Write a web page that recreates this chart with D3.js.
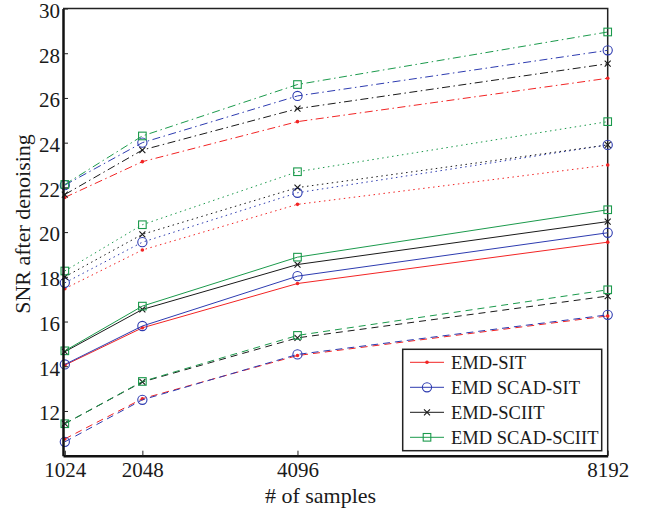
<!DOCTYPE html>
<html>
<head>
<meta charset="utf-8">
<script src="https://cdn.jsdelivr.net/npm/d3@7"></script>
<style>
  body { margin: 0; background: #fff; }
  svg { display: block; font-family: "Liberation Serif", "Times New Roman", serif; }
</style>
</head>
<body>
<svg id="drawing_region"></svg>
<script>
// x values
const samples = [1024, 2048, 4096, 8192];
const yTicks = [12, 14, 16, 18, 20, 22, 24, 26, 28, 30];
const methods = ["EMD-SIT", "EMD SCAD-SIT", "EMD-SCIIT", "EMD SCAD-SCIIT"];
// four curves per method: dash-dot, dotted, solid, dashed
const lineStyles = ["dashdot", "dotted", "solid", "dashed"];

const emdSit = [
    [21.55, 23.15, 24.94, 26.88],
    [17.47, 19.20, 21.24, 23.00],
    [14.05, 15.72, 17.70, 19.55],
    [10.75, 12.55, 14.48, 16.25]
];
const emdScadSit = [
    [22.10, 24.00, 26.09, 28.13],
    [17.73, 19.55, 21.76, 23.90],
    [14.08, 15.80, 18.03, 19.97],
    [10.62, 12.50, 14.53, 16.30]
];
const emdSciit = [
    [21.68, 23.67, 25.52, 27.53],
    [18.00, 19.90, 21.99, 23.90],
    [14.65, 16.54, 18.55, 20.47],
    [11.43, 13.30, 15.27, 17.14]
];
const emdScadSciit = [
    [22.13, 24.30, 26.60, 28.95],
    [18.26, 20.33, 22.70, 24.94],
    [14.69, 16.69, 18.88, 21.00],
    [11.43, 13.32, 15.38, 17.42]
];

const seriesByMethod = [emdSit, emdScadSit, emdSciit, emdScadSciit];
const colors = ["#f22424", "#2d3bb0", "#1a1a1a", "#1b9a4c"];
const markers = ["dot", "circle", "cross", "square"];
const dashes = {
    dashdot: "8,3.5,1.5,3.5",
    dotted: "1.5,3.5",
    solid: null,
    dashed: "7,5"
};

const config = {
    width: 647,
    height: 514,
    margin: {top: 8.5, right: 39.3, bottom: 58.3, left: 63}
};

const svg = d3.select('#drawing_region')
    .attr('width', config.width)
    .attr('height', config.height);

const inner_width = config.width - config.margin.left - config.margin.right;
const inner_height = config.height - config.margin.top - config.margin.bottom;

const chart = svg.append('g')
    .attr('transform', `translate(${config.margin.left}, ${config.margin.top})`);

const xscale = d3.scaleLinear()
    .domain([1000, 8192])
    .range([0, inner_width]);

const yscale = d3.scaleLinear()
    .domain([10, 30])
    .range([inner_height, 0]);

// top and right frame
chart.append('path')
    .attr('d', `M0,0H${inner_width}V${inner_height}`)
    .attr('fill', 'none')
    .attr('stroke', '#222')
    .attr('stroke-width', 1.5);

const line = d3.line()
    .x((d, i) => xscale(samples[i]))
    .y(d => yscale(d));

function drawMarker(g, type, color) {
    if (type === "dot") {
        g.append('circle').attr('r', 1.8).attr('fill', color);
    } else if (type === "circle") {
        g.append('circle').attr('r', 4.6).attr('fill', 'none')
            .attr('stroke', color).attr('stroke-width', 1.1);
    } else if (type === "cross") {
        g.append('path').attr('d', 'M-3,-3L3,3M-3,3L3,-3')
            .attr('stroke', color).attr('stroke-width', 1.1);
    } else {
        g.append('rect').attr('x', -3.8).attr('y', -3.8)
            .attr('width', 7.6).attr('height', 7.6)
            .attr('fill', 'none').attr('stroke', color).attr('stroke-width', 1.1);
    }
}

seriesByMethod.forEach((rows, m) => {
    rows.forEach((vals, s) => {
        chart.append('path')
            .datum(vals)
            .attr('d', line)
            .attr('fill', 'none')
            .attr('stroke', colors[m])
            .attr('stroke-width', 1)
            .attr('stroke-dasharray', dashes[lineStyles[s]]);

        vals.forEach((v, i) => {
            const g = chart.append('g')
                .attr('transform', `translate(${xscale(samples[i])}, ${yscale(v)})`);
            drawMarker(g, markers[m], colors[m]);
        });
    });
});

// axes, ticks point inside
const xaxis = d3.axisBottom(xscale)
    .tickValues(samples)
    .tickFormat(d3.format('d'))
    .tickSize(-5)
    .tickSizeOuter(0)
    .tickPadding(6);

const yaxis = d3.axisLeft(yscale)
    .tickValues(yTicks)
    .tickSize(-5)
    .tickSizeOuter(0)
    .tickPadding(3);

const xaxis_group = chart.append('g')
    .attr('transform', `translate(0, ${inner_height})`)
    .call(xaxis);

const yaxis_group = chart.append('g')
    .call(yaxis);

[xaxis_group, yaxis_group].forEach(g => {
    g.select('.domain').attr('stroke', '#111').attr('stroke-width', 2.5);
    g.selectAll('.tick line').attr('stroke', '#222').attr('stroke-width', 1);
    g.selectAll('.tick text')
        .attr('fill', '#1a1a1a')
        .style('font-family', '"Liberation Serif", serif')
        .style('font-size', '21px');
});
yaxis_group.selectAll('.tick text').attr('dy', '0.42em');

// axis labels
svg.append('text')
    .attr('x', config.margin.left + xscale(4400))
    .attr('y', 503)
    .attr('text-anchor', 'middle')
    .attr('fill', '#1a1a1a')
    .style('font-size', '22px')
    .text('# of samples');

svg.append('text')
    .attr('transform', 'translate(30, 224) rotate(-90)')
    .attr('text-anchor', 'middle')
    .attr('fill', '#1a1a1a')
    .style('font-size', '22px')
    .text('SNR after denoising');

// legend
const legend = svg.append('g')
    .attr('transform', 'translate(402.7, 349.3)');

legend.append('rect')
    .attr('width', 199)
    .attr('height', 101.4)
    .attr('fill', '#fff')
    .attr('stroke', '#222')
    .attr('stroke-width', 1.5);

const lscale = d3.scalePoint()
    .domain(methods)
    .range([13, 88]);

methods.forEach((name, m) => {
    const row = legend.append('g')
        .attr('transform', `translate(0, ${lscale(name)})`);
    row.append('line')
        .attr('x1', 7.3).attr('x2', 41.3)
        .attr('stroke', colors[m])
        .attr('stroke-width', 1);
    const mk = row.append('g').attr('transform', 'translate(24.3, 0)');
    drawMarker(mk, markers[m], colors[m]);
    row.append('text')
        .attr('x', 48.3)
        .attr('dy', '0.35em')
        .attr('fill', '#1a1a1a')
        .style('font-size', '18.5px')
        .text(name);
});
</script>
</body>
</html>
